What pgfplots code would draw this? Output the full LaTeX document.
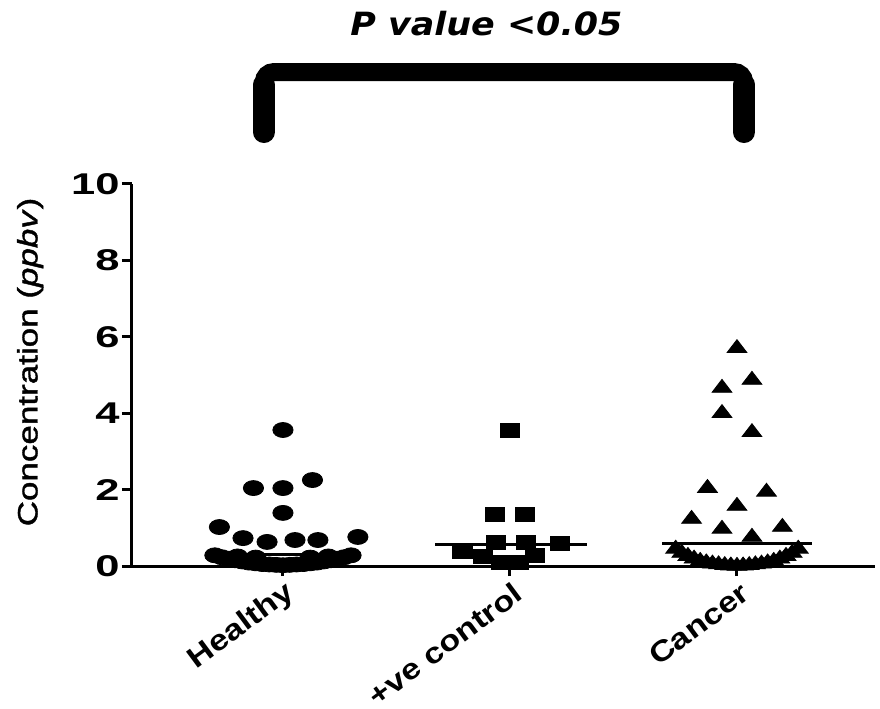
\documentclass[border=0pt]{standalone}
\usepackage{pgfplots}
\pgfplotsset{compat=1.18}
\usepackage{fontspec}
\setmainfont{Liberation Sans}
\newfontfamily\dejavu{DejaVu Sans}
\newfontfamily\labfont[FakeBold=1.2]{Liberation Sans}
\begin{document}
\begin{tikzpicture}
\path[use as bounding box] (-66bp,-71.5bp) rectangle (374bp,283bp);
\begin{axis}[
  scale only axis,
  width=371.5bp, height=191bp,
  xmin=-0.665, xmax=2.608,
  ymin=0, ymax=10,
  clip=false,
  axis x line*=bottom, axis y line*=left,
  axis line style={line width=1.5bp},
  tick align=outside,
  major tick length=5bp,
  every tick/.style={line width=1.5bp, black},
  xtick={0,1,2},
  xticklabels={Healthy,+ve control,Cancer},
  xticklabel={\scalebox{1.18}[1]{\bfseries\pgfmathparse{int(\tick)}\ifcase\pgfmathresult Healthy\or +ve control\or Cancer\fi}},
  x tick label style={font=\fontsize{14.5bp}{16bp}\selectfont, rotate=36.5, anchor=east, inner sep=1bp, xshift=0.5bp, yshift=-8bp},
  ytick={0,2,4,6,8,10},
  yticklabel={\scalebox{1.45}[1]{\bfseries\pgfmathparse{int(\tick)}\pgfmathresult}},
  y tick label style={font=\fontsize{15bp}{17bp}\selectfont, anchor=east, inner sep=1bp},
  ylabel={\scalebox{1.25}[1]{\labfont Concentration (\textit{ppbv})}},
  ylabel style={font=\fontsize{14bp}{16bp}\selectfont, at={(axis description cs:-0.137,0.534)}, anchor=center},
]
% Healthy
\addplot[only marks, mark=*, mark size=3.75bp, mark options={xscale=1.35, fill=black, draw=black}] coordinates {
(0,3.56) (-0.13,2.04) (0,2.04) (0.13,2.25) (0,1.39) (-0.28,1.02)
(-0.176,0.73) (-0.07,0.63) (0.053,0.68) (0.154,0.68) (0.33,0.76)
(-0.30,0.28) (-0.27,0.23) (-0.24,0.19) (-0.21,0.15) (-0.18,0.12) (-0.15,0.09)
(-0.12,0.07) (-0.09,0.05) (-0.06,0.04) (-0.03,0.03) (0,0.02) (0.03,0.03)
(0.06,0.04) (0.09,0.05) (0.12,0.07) (0.15,0.09) (0.18,0.12) (0.21,0.15)
(0.24,0.19) (0.27,0.23) (0.30,0.28)
(-0.2,0.25) (-0.12,0.22) (0.12,0.22) (0.2,0.25)
};
\addplot[line width=1.5bp, mark=none] coordinates {(-0.33,0.29) (0.33,0.29)};
% +ve control
\addplot[only marks, mark=square*, mark size=3.5bp, mark options={xscale=1.4, fill=black, draw=black}] coordinates {
(1,3.56) (0.934,1.34) (1.066,1.34)
(0.938,0.63) (1.07,0.63) (1.22,0.58)
(0.79,0.37) (0.88,0.25) (1.11,0.29)
(0.96,0.1) (1.04,0.1)
};
\addplot[line width=1.5bp, mark=none] coordinates {(0.67,0.55) (1.34,0.55)};
% Cancer
\addplot[only marks, mark=triangle*, mark size=4.3bp, mark options={xscale=1.33, fill=black, draw=black}] coordinates {
(2,5.7) (2.066,4.87) (1.934,4.66) (1.934,4.0) (2.066,3.5)
(1.87,2.04) (2.13,1.94) (2,1.57)
(1.8,1.23) (1.934,0.97) (2.2,1.02) (2.066,0.76)
(1.73,0.45) (1.757,0.34) (1.784,0.26) (1.811,0.19) (1.838,0.13) (1.865,0.09)
(1.892,0.06) (1.919,0.04) (1.946,0.02) (1.973,0.01) (2,0.0)
(2.027,0.01) (2.054,0.02) (2.081,0.04) (2.108,0.06) (2.135,0.09)
(2.162,0.13) (2.189,0.19) (2.216,0.26) (2.243,0.34) (2.27,0.45)
};
\addplot[line width=1.5bp, mark=none] coordinates {(1.67,0.6) (2.33,0.6)};
% bracket and title
\draw[line width=9bp, line cap=round, rounded corners=5bp] (axis cs:-0.084,11.36) -- (axis cs:-0.084,12.93) -- (axis cs:2.031,12.93) -- (axis cs:2.031,11.36);
\draw[line width=11bp, line cap=round] (axis cs:-0.084,11.36) -- (axis cs:-0.084,12.6);
\draw[line width=11bp, line cap=round] (axis cs:2.031,11.36) -- (axis cs:2.031,12.6);
\node[font=\dejavu\fontsize{16bp}{18bp}\selectfont\bfseries\itshape, anchor=center] at (axis cs:0.896,14.19) {\scalebox{1.09}[1]{P value <0.05}};
\end{axis}
\end{tikzpicture}
\end{document}
